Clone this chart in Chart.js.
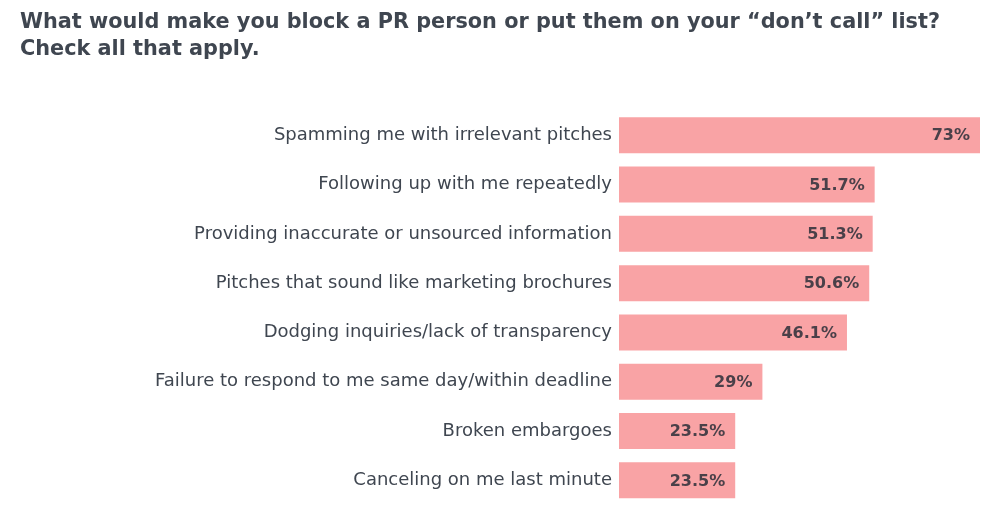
<!DOCTYPE html>
<html>
<head>
<meta charset="utf-8">
<script src="https://cdn.jsdelivr.net/npm/chart.js@4"></script>
<style>
html,body{margin:0;padding:0;background:#fff;}
#wrap{width:1000px;height:521px;position:relative;}
</style>
</head>
<body>
<div id="wrap"><canvas id="c" width="1000" height="521"></canvas></div>
<script>
const titleLines = ["What would make you block a PR person or put them on your \u201cdon\u2019t call\u201d list?", "Check all that apply."];
const categories = [
  "Spamming me with irrelevant pitches",
  "Following up with me repeatedly",
  "Providing inaccurate or unsourced information",
  "Pitches that sound like marketing brochures",
  "Dodging inquiries/lack of transparency",
  "Failure to respond to me same day/within deadline",
  "Broken embargoes",
  "Canceling on me last minute"
];
const values = [73, 51.7, 51.3, 50.6, 46.1, 29, 23.5, 23.5];
const valueLabels = ["73%", "51.7%", "51.3%", "50.6%", "46.1%", "29%", "23.5%", "23.5%"];

const FONT = "'DejaVu Sans', sans-serif";

const barLabels = {
  id: 'barLabels',
  afterDatasetsDraw(chart) {
    const ctx = chart.ctx;
    const meta = chart.getDatasetMeta(0);
    ctx.save();
    ctx.font = "bold 16px " + FONT;
    ctx.fillStyle = "#4a4049";
    ctx.textAlign = "right";
    ctx.textBaseline = "middle";
    meta.data.forEach((bar, i) => {
      ctx.fillText(valueLabels[i], bar.x - 10, bar.y + 1);
    });
    ctx.restore();
  }
};

new Chart(document.getElementById('c'), {
  type: 'bar',
  data: {
    labels: categories,
    datasets: [{
      data: values,
      backgroundColor: '#f9a3a5',
      borderWidth: 0,
      barPercentage: 0.73,
      categoryPercentage: 1.0
    }]
  },
  options: {
    indexAxis: 'y',
    responsive: false,
    animation: false,
    devicePixelRatio: 1,
    layout: { padding: { left: 20, right: 20, top: 0, bottom: 16 } },
    plugins: {
      legend: { display: false },
      tooltip: { enabled: false },
      title: {
        display: true,
        text: titleLines,
        align: 'start',
        color: '#3f4650',
        font: { family: FONT, size: 20.8, weight: 'bold', lineHeight: 1.3 },
        padding: { top: 9, bottom: 47.5 }
      }
    },
    scales: {
      x: { display: false, min: 0, max: 73 },
      y: {
        grid: { display: false, drawTicks: false },
        border: { display: false },
        ticks: { color: '#3f4650', font: { family: FONT, size: 18 }, padding: 7 },
        afterFit(scale) { scale.width = 599; scale.paddingTop = 0; scale.paddingBottom = 0; }
      }
    }
  },
  plugins: [barLabels]
});
</script>
</body>
</html>
